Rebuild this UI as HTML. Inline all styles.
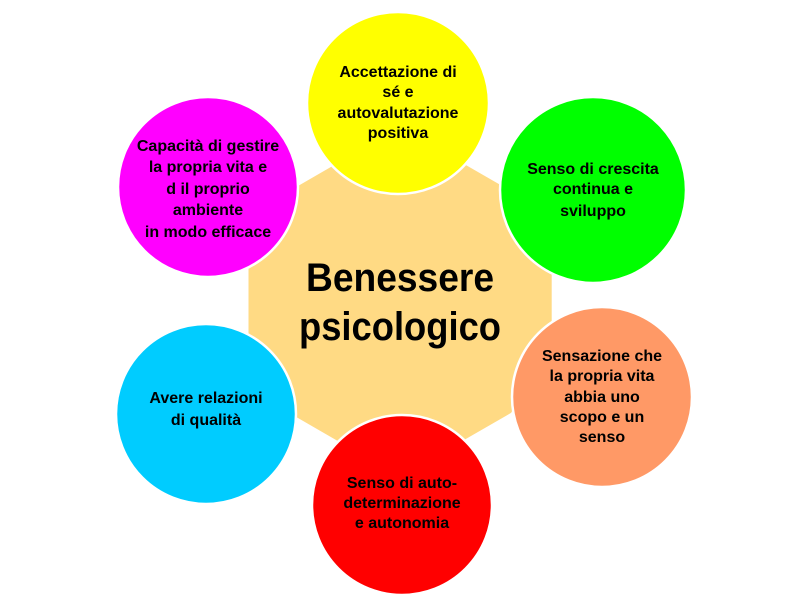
<!DOCTYPE html>
<html><head><meta charset="utf-8"><style>
body{margin:0;background:#fff;}
svg text{font-family:"Liberation Sans",sans-serif;font-weight:bold;fill:#000;}
</style></head><body>
<svg width="797" height="598" viewBox="0 0 797 598">
<polygon fill="#FFDA84" points="
551.7,261.4 551.7,342.6 511.1,412.9 440.6,453.5 359.4,453.5 289.1,412.9 248.5,342.6 248.5,261.4 289.1,191.1 359.4,150.5 440.6,150.5 511.1,191.1"/>
<text x="400" y="291" font-size="40" text-anchor="middle" textLength="188" lengthAdjust="spacingAndGlyphs">Benessere</text>
<text x="400" y="340" font-size="40" text-anchor="middle" textLength="202" lengthAdjust="spacingAndGlyphs">psicologico</text>
<g stroke="#fff" stroke-width="2.5">
<circle cx="398" cy="103" r="91" fill="#FFFF00"/>
<circle cx="593" cy="190" r="93" fill="#00FF00"/>
<circle cx="602" cy="397" r="90" fill="#FF9966"/>
<circle cx="402" cy="505" r="90" fill="#FF0000"/>
<circle cx="206" cy="414" r="90" fill="#00CCFF"/>
<circle cx="208" cy="187" r="90" fill="#FF00FF"/>
</g>
<g font-size="16" text-anchor="middle">
<text x="398" y="77">Accettazione di</text>
<text x="398" y="97">sé e</text>
<text x="398" y="118">autovalutazione</text>
<text x="398" y="138">positiva</text>
<text x="593" y="174">Senso di crescita</text>
<text x="593" y="194">continua e</text>
<text x="593" y="216">sviluppo</text>
<text x="602" y="361">Sensazione che</text>
<text x="602" y="381">la propria vita</text>
<text x="602" y="402">abbia uno</text>
<text x="602" y="422">scopo e un</text>
<text x="602" y="442">senso</text>
<text x="402" y="488">Senso di auto-</text>
<text x="402" y="508">determinazione</text>
<text x="402" y="528">e autonomia</text>
<text x="206" y="403">Avere relazioni</text>
<text x="206" y="425">di qualità</text>
<text x="208" y="151">Capacità di gestire</text>
<text x="208" y="172">la propria vita e</text>
<text x="208" y="194">d il proprio</text>
<text x="208" y="215">ambiente</text>
<text x="208" y="237">in modo efficace</text>
</g>
</svg>
</body></html>
